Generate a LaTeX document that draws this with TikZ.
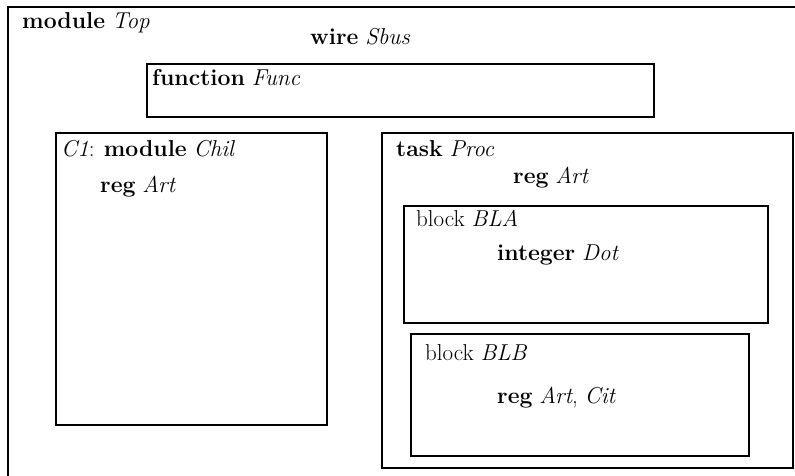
\documentclass[tikz,border=0pt]{standalone}
\usepackage{fontspec}
\begin{document}
\begin{tikzpicture}[x=1pt,y=-1pt,
  box/.style={draw=black, line width=1.8pt, rectangle, inner sep=0pt, anchor=north west},
  txt/.style={inner sep=0pt, anchor=base west, font=\fontsize{23}{27}\selectfont}]
\useasboundingbox (0,0) rectangle (795,476);
\clip (0,0) rectangle (795,476);
\fill[white] (0,0) rectangle (795,476);
% outer module box (cut off by the picture edge)
\node[box, minimum width=820pt, minimum height=500pt] (top) at (7,6) {};
\node[txt] (ttop) at (22,29) {\textbf{module} \textit{Top}};
\node[txt] (tsbus) at (310,45) {\textbf{wire} \textit{Sbus}};
% function box
\node[box, minimum width=507pt, minimum height=53pt] (func) at (146,63) {};
\node[txt] (tfunc) at (152,86) {\textbf{function} \textit{Func}};
% C1 box
\node[box, minimum width=271pt, minimum height=292pt] (chil) at (55,132) {};
\node[txt] (tchil) at (61,157) {\textit{C1}: \textbf{module} \textit{Chil}};
\node[txt] (tcart) at (100,192) {\textbf{reg} \textit{Art}};
% task box
\node[box, minimum width=411pt, minimum height=335pt] (proc) at (381,132) {};
\node[txt] (tproc) at (396,157) {\textbf{task} \textit{Proc}};
\node[txt] (tpart) at (513,183) {\textbf{reg} \textit{Art}};
% block BLA
\node[box, minimum width=364pt, minimum height=117pt] (bla) at (403,205) {};
\node[txt] (tbla) at (416,226) {block \textit{BLA}};
\node[txt] (tdot) at (497,260) {\textbf{integer} \textit{Dot}};
% block BLB
\node[box, minimum width=338pt, minimum height=122pt] (blb) at (410,333) {};
\node[txt] (tblb) at (425,360) {block \textit{BLB}};
\node[txt] (tcit) at (497,403) {\textbf{reg} \textit{Art}, \textit{Cit}};
\end{tikzpicture}
\end{document}
